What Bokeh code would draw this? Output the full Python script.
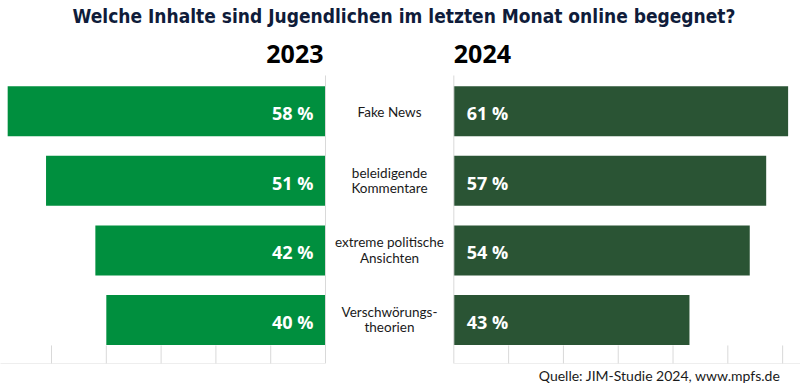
from bokeh.plotting import figure
from bokeh.models import Range1d, ColumnDataSource, Label, LabelSet
from bokeh.core.properties import value
from bokeh.embed import file_html
from bokeh.resources import INLINE

# ---- data ----
categories = ["Fake News", "beleidigende\nKommentare", "extreme politische\nAnsichten", "Verschwörungs-\ntheorien"]
values_2023 = [58, 51, 42, 40]
values_2024 = [61, 57, 54, 43]
years = ["2023", "2024"]
tick_values = [10, 20, 30, 40, 50, 60]
title_text = "Welche Inhalte sind Jugendlichen im letzten Monat online begegnet?"
source_text = "Quelle: JIM-Studie 2024, www.mpfs.de"

W, H = 800, 387
C_LEFT = "#008f3e"
C_RIGHT = "#2a5434"
GRID = "#d9d9d9"

rows = list(range(len(categories)))

p = figure(width=W, height=H, output_backend="svg", toolbar_location=None,
           x_range=Range1d(59.31, -86.68), y_range=Range1d(3.970, -1.5905),
           min_border=0, x_axis_location=None, y_axis_location=None,
           outline_line_color=None, background_fill_color="white",
           border_fill_color="white")
p.extra_x_ranges = {"right": Range1d(-82.72, 63.26)}
p.grid.visible = False

src = ColumnDataSource(dict(
    row=rows, v23=values_2023, v24=values_2024,
    l23=[f"{v} %" for v in values_2023], l24=[f"{v} %" for v in values_2024],
))

# bars
p.hbar(y="row", left=0, right="v23", height=0.718, source=src,
       fill_color=C_LEFT, line_color=None)
p.hbar(y="row", left=0, right="v24", height=0.718, source=src,
       fill_color=C_RIGHT, line_color=None, x_range_name="right")

# axis lines and ticks (drawn through the scales)
y_axis_top, y_axis_bot, y_tick_top = -0.513, 3.625, 3.366
for rn in ("default", "right"):
    p.segment(x0=[0], x1=[0], y0=[y_axis_top], y1=[y_axis_bot], line_color=GRID,
              line_width=1, x_range_name=rn)
    p.segment(x0=[0], x1=[max(tick_values) + 5], y0=[y_axis_bot], y1=[y_axis_bot],
              line_color="#eeeeee", line_width=1, x_range_name=rn)
    p.segment(x0=tick_values, x1=tick_values, y0=[y_tick_top] * len(tick_values),
              y1=[y_axis_bot] * len(tick_values), line_color=GRID, line_width=1,
              x_range_name=rn)

# value labels
p.text(x=0, y="row", text="l23", source=src, x_offset=-12, y_offset=2,
       text_align="right", text_baseline="alphabetic", text_color="white",
       text_font=value("Open Sans"), text_font_style="bold", text_font_size="18px")
p.text(x=0, y="row", text="l24", source=src, x_offset=13, y_offset=2,
       text_align="left", text_baseline="alphabetic", text_color="white",
       text_font=value("Open Sans"), text_font_style="bold", text_font_size="18px",
       x_range_name="right")

# category labels (each line centred on its own; positive offset = up)
line_row, line_text, line_dy = [], [], []
for r, c in zip(rows, categories):
    parts = c.split("\n")
    offs = [-1.0] if len(parts) == 1 else [8.0, -7.5]
    for t, d in zip(parts, offs):
        line_row.append(r)
        line_text.append(t)
        line_dy.append(d)
cat_src = ColumnDataSource(dict(row=line_row, txt=line_text, dy=line_dy))
cats = LabelSet(x=389, x_units="screen", y="row", text="txt", source=cat_src,
                text_align="center", text_baseline="middle", y_offset="dy",
                text_font=value("Lato"), text_font_size="13.5px", text_color="#1a1a1a")
p.add_layout(cats)

# title, years, source
p.add_layout(Label(x=403.5, y=372, x_units="screen", y_units="screen",
                   text=title_text, text_align="center", text_baseline="alphabetic",
                   text_font="DejaVu Sans Condensed, Open Sans", text_font_style="bold",
                   text_font_size="19px", text_color="#0f1c3a"))
p.add_layout(Label(x=323, y=334, x_units="screen", y_units="screen",
                   text=years[0], text_align="right", text_baseline="alphabetic",
                   text_font="Open Sans", text_font_style="bold",
                   text_font_size="25px", text_color="black"))
p.add_layout(Label(x=453.3, y=334, x_units="screen", y_units="screen",
                   text=years[1], text_align="left", text_baseline="alphabetic",
                   text_font="Open Sans", text_font_style="bold",
                   text_font_size="25px", text_color="black"))
p.add_layout(Label(x=780, y=12.5, x_units="screen", y_units="screen",
                   text=source_text, text_align="right", text_baseline="alphabetic",
                   text_font="Lato", text_font_size="14px", text_color="#1a1a1a"))

open("out.html", "w").write(file_html(p, INLINE))
